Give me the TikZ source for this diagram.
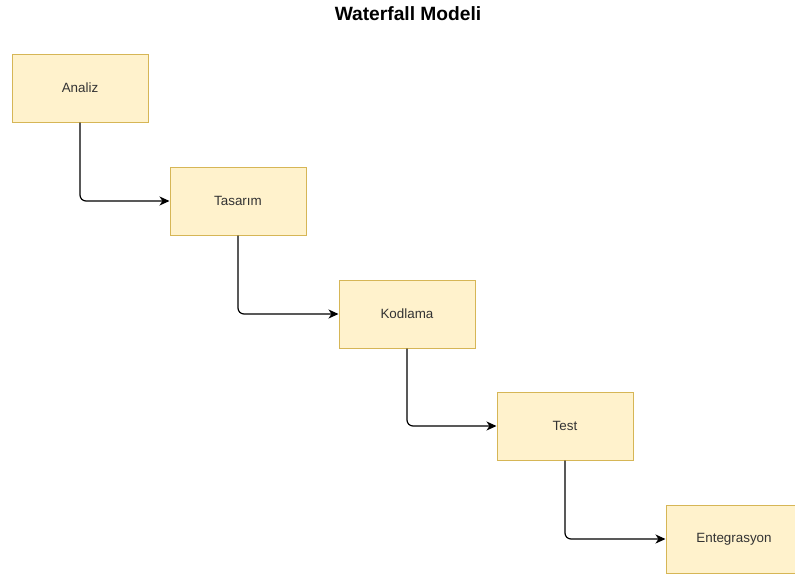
\documentclass[tikz,border=0pt]{standalone}
\usepackage{fontspec}
\setmainfont{Liberation Sans}
\usetikzlibrary{arrows.meta}
\definecolor{boxfill}{HTML}{FFF2CC}
\definecolor{boxline}{HTML}{D6B656}
\definecolor{labeltext}{HTML}{333333}
\tikzset{
  phase/.style={draw=boxline, fill=boxfill, line width=1pt,
    minimum width=136pt, minimum height=68pt, inner sep=0pt,
    font=\fontsize{13.4}{16}\selectfont, text=labeltext},
  flow/.style={draw=black, line width=1.2pt, rounded corners=6pt,
    -{Stealth[length=10pt,width=9pt,inset=3pt]}},
  heading/.style={font=\fontsize{19.2}{22}\selectfont\bfseries, text=black}
}
\begin{document}
\begin{tikzpicture}[x=1pt,y=-1pt]
  \useasboundingbox (0,0) rectangle (795,573);
  \clip (0,0) rectangle (795,573);
  \node[heading] (title) at (408,14) {Waterfall Modeli};
  \node[phase] (analiz) at (80,88) {\raisebox{-1.5pt}{Analiz}};
  \node[phase] (tasarim) at (238,201) {\raisebox{-1.5pt}{Tasarım}};
  \node[phase] (kodlama) at (407,314) {\raisebox{-1.5pt}{Kodlama}};
  \node[phase] (test) at (565,426) {\raisebox{-1.5pt}{Test}};
  \node[phase] (entegrasyon) at (734,539) {\raisebox{-1.5pt}{Entegrasyon}};
  \draw[flow] (analiz.south) |- (tasarim.west);
  \draw[flow] (tasarim.south) |- (kodlama.west);
  \draw[flow] (kodlama.south) |- (test.west);
  \draw[flow] (test.south) |- (entegrasyon.west);
\end{tikzpicture}
\end{document}
